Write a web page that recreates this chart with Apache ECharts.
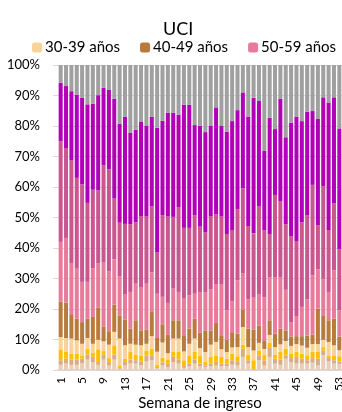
<!DOCTYPE html>
<html>
<head>
<meta charset="utf-8">
<script src="https://cdn.jsdelivr.net/npm/echarts@6/dist/echarts.min.js"></script>
<style>
  html, body { margin: 0; padding: 0; background: #fff; }
  #uciChart { width: 342px; height: 412px; }
</style>
</head>
<body>
<div id="uciChart"></div>
<script>
// semanas 1..53
const weeks = Array.from({ length: 53 }, (_, i) => String(i + 1));
const yTicks = [0, 10, 20, 30, 40, 50, 60, 70, 80, 90, 100];

// % de ingresos en UCI por grupo de edad
const age0_9 = [1.7, 2.1, 1.7, 1.7, 2.3, 3.4, 2.6, 1.7, 3.4, 1.5, 3.4, 0.3, 1.5, 2.1, 2.1, 1.5, 2.8, 3.2, 0.5, 1.5, 1.0, 2.6, 2.1, 0.7, 1.3, 2.1, 1.3, 1.0, 1.3, 1.5, 1.3, 1.3, 1.7, 1.5, 4.3, 2.1, 0.1, 3.2, 1.5, 4.3, 2.1, 1.7, 3.7, 2.6, 2.1, 2.1, 2.1, 2.4, 1.5, 4.8, 2.8, 2.1, 2.0];
const age10_19 = [1.5, 1.6, 1.7, 1.7, 1.4, 1.7, 1.7, 0.9, 1.7, 1.1, 1.7, 0.3, 1.1, 1.3, 1.1, 1.3, 2.0, 1.6, 0.5, 1.0, 1.0, 1.7, 1.3, 0.6, 0.8, 1.3, 0.8, 0.5, 0.8, 1.1, 0.8, 0.8, 1.5, 1.3, 2.7, 1.1, 0.2, 1.6, 1.7, 2.9, 1.6, 1.7, 1.1, 1.3, 2.2, 1.6, 1.1, 1.5, 2.2, 1.6, 1.1, 1.1, 0.8];
const age20_29 = [3.6, 2.2, 2.0, 2.0, 1.1, 1.9, 1.4, 4.2, 1.1, 1.3, 3.0, 0.9, 1.1, 2.5, 1.8, 2.0, 1.6, 2.2, 0.8, 1.5, 1.5, 1.6, 2.5, 1.9, 2.7, 2.5, 2.7, 1.1, 2.2, 2.2, 2.2, 1.6, 2.2, 1.7, 1.3, 1.8, 2.9, 1.6, 1.7, 1.8, 1.3, 2.5, 2.2, 1.5, 1.7, 1.7, 1.6, 2.1, 2.2, 1.1, 0.7, 1.6, 1.7];
const age30_39 = [4.0, 4.6, 4.9, 4.3, 3.8, 3.5, 2.9, 3.1, 3.2, 4.4, 4.4, 8.8, 4.4, 2.7, 3.3, 3.3, 2.2, 4.1, 4.2, 5.0, 2.0, 4.4, 4.4, 2.9, 3.8, 4.4, 2.4, 3.3, 4.0, 4.4, 2.5, 2.2, 2.0, 3.0, 5.8, 2.5, 3.2, 2.5, 2.0, 2.5, 2.5, 2.5, 2.5, 2.5, 2.5, 2.6, 2.5, 2.5, 2.6, 2.4, 4.6, 3.3, 2.0];
const age40_49 = [11.7, 11.6, 8.0, 7.1, 7.1, 6.3, 8.8, 10.5, 4.9, 4.4, 8.9, 7.6, 8.5, 5.0, 8.0, 4.9, 4.7, 7.9, 4.5, 6.0, 6.0, 6.0, 6.0, 5.3, 5.0, 6.5, 5.0, 7.1, 4.7, 6.2, 4.6, 4.1, 5.0, 4.4, 5.8, 6.1, 6.9, 5.7, 2.6, 4.8, 4.4, 5.2, 3.5, 3.1, 2.6, 3.1, 4.0, 3.1, 11.6, 7.8, 7.1, 8.7, 4.5];
const age50_59 = [19.5, 21.2, 16.6, 16.4, 13.2, 12.1, 16.0, 14.5, 20.9, 19.6, 14.9, 12.9, 8.1, 12.0, 12.0, 14.2, 15.0, 13.0, 14.5, 9.0, 10.5, 10.4, 9.3, 12.2, 10.9, 8.2, 13.4, 12.4, 13.4, 12.6, 16.6, 9.6, 10.1, 17.5, 11.9, 9.6, 10.4, 10.1, 14.4, 14.2, 18.6, 16.9, 13.3, 4.7, 6.6, 9.6, 11.9, 19.4, 12.9, 12.2, 9.3, 15.9, 8.6];
const age60_69 = [33.0, 29.3, 33.8, 29.8, 32.0, 25.9, 25.7, 24.0, 31.9, 33.5, 19.9, 17.5, 23.2, 22.2, 20.1, 23.3, 22.0, 21.6, 13.5, 26.8, 28.3, 23.5, 27.8, 23.0, 22.1, 25.8, 21.4, 19.7, 24.1, 23.1, 22.3, 25.0, 23.4, 23.4, 27.8, 24.0, 21.1, 28.9, 22.0, 14.1, 26.9, 24.9, 21.5, 28.2, 24.6, 27.7, 27.6, 29.7, 14.5, 30.4, 20.3, 21.9, 20.1];
const age70_79 = [19.2, 20.5, 22.7, 27.3, 28.3, 32.3, 28.2, 31.2, 25.4, 26.0, 32.7, 32.5, 35.1, 29.9, 30.4, 31.0, 29.7, 29.4, 40.9, 30.9, 34.1, 34.2, 30.3, 40.4, 40.4, 29.5, 33.1, 32.9, 29.5, 35.0, 29.7, 33.5, 35.7, 32.4, 31.4, 35.9, 44.5, 34.6, 25.9, 38.1, 21.6, 33.5, 28.5, 37.2, 40.8, 33.2, 33.9, 24.2, 34.8, 29.1, 41.8, 34.8, 39.5];
const age80 = [5.8, 6.9, 8.6, 9.7, 10.8, 12.9, 12.7, 9.9, 7.5, 8.2, 11.1, 19.2, 17.0, 22.3, 21.2, 18.5, 20.0, 17.0, 20.6, 18.3, 15.6, 15.6, 16.3, 13.0, 13.0, 19.7, 19.9, 22.0, 20.0, 13.9, 20.0, 21.9, 18.4, 14.8, 9.0, 16.9, 10.7, 11.8, 28.2, 17.3, 21.0, 11.1, 23.7, 18.9, 16.9, 18.4, 15.3, 15.1, 17.7, 10.6, 12.3, 10.6, 20.8];

const groups = [
  { name: '0-9 años', data: age0_9, color: '#E9CDB4' },
  { name: '10-19 años', data: age10_19, color: '#D8AB89' },
  { name: '20-29 años', data: age20_29, color: '#FFC000' },
  { name: '30-39 años', data: age30_39, color: '#F8D399' },
  { name: '40-49 años', data: age40_49, color: '#B77B3D' },
  { name: '50-59 años', data: age50_59, color: '#E87B9B' },
  { name: '60-69 años', data: age60_69, color: '#C9568F' },
  { name: '70-79 años', data: age70_79, color: '#B100B8' },
  { name: '80 y más', data: age80, color: '#A0A0A0' }
];

const chart = echarts.init(document.getElementById('uciChart'), null, { renderer: 'canvas' });
const font = 'Lato, "Open Sans", sans-serif';

chart.setOption({
  animation: false,
  textStyle: { fontFamily: font },
  title: {
    text: 'UCI',
    left: 158,
    top: 15,
    textStyle: { fontSize: 18, fontWeight: 'normal', color: '#000', fontFamily: font }
  },
  legend: {
    data: ['30-39 años', '40-49 años', '50-59 años'],
    left: 27,
    top: 35,
    itemWidth: 10,
    itemHeight: 10,
    itemGap: 20,
    itemStyle: { borderWidth: 0 },
    textStyle: { fontSize: 15, color: '#000', fontFamily: font, padding: [0, 0, 0, -2] }
  },
  grid: { left: 58, right: 0, top: 65, bottom: 42, containLabel: false, outerBoundsMode: 'none' },
  xAxis: {
    type: 'category',
    data: weeks,
    name: 'Semana de ingreso',
    nameLocation: 'middle',
    nameGap: 26,
    nameMoveOverlap: false,
    nameTextStyle: { fontSize: 15, color: '#000', fontFamily: font },
    axisLine: { lineStyle: { color: '#D9D9D9', width: 2 } },
    axisTick: { show: false },
    axisLabel: { interval: 3, rotate: 90, margin: 7, fontSize: 12, color: '#000', fontFamily: font }
  },
  yAxis: {
    type: 'value',
    min: yTicks[0],
    max: yTicks[yTicks.length - 1],
    interval: 10,
    axisLine: { show: false },
    axisTick: { show: true, length: 5, lineStyle: { color: '#D9D9D9' } },
    splitLine: { lineStyle: { color: '#D9D9D9', width: 1 } },
    axisLabel: { formatter: '{value}%', margin: 18, fontSize: 13, color: '#000', fontFamily: font }
  },
  series: groups.map(g => ({
    name: g.name,
    type: 'bar',
    stack: 'total',
    data: g.data,
    barCategoryGap: '25%',
    itemStyle: { color: g.color }
  }))
});
</script>
</body>
</html>
